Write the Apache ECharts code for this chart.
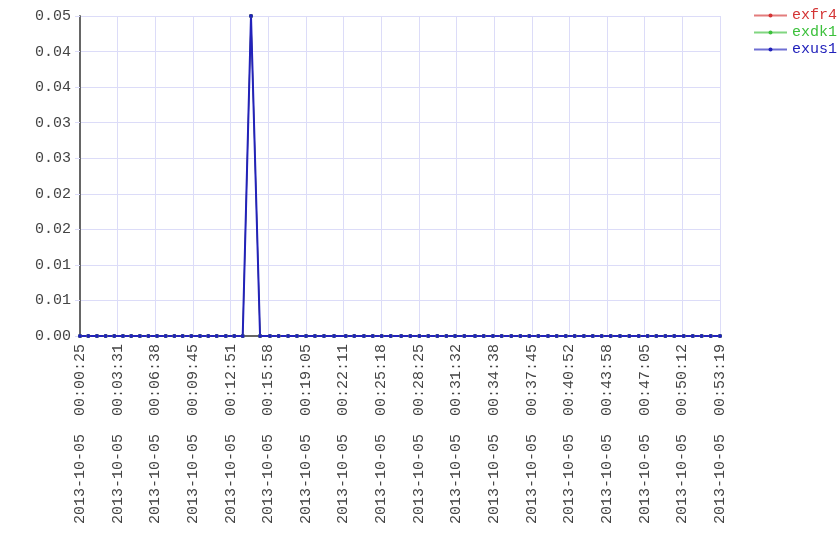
<!DOCTYPE html>
<html>
<head>
<meta charset="utf-8">
<script src="https://cdn.jsdelivr.net/npm/echarts@6/dist/echarts.min.js"></script>
<style>html,body{margin:0;padding:0;background:#fff}#c{width:840px;height:560px}</style>
</head>
<body>
<div id="c"></div>
<script>
const datePrefix = "2013-10-05";
const times = [
"00:00:25","00:01:06","00:01:49","00:02:32","00:03:15","00:03:58","00:04:39","00:05:22","00:06:04","00:06:47",
"00:07:30","00:08:13","00:08:54","00:09:37","00:10:20","00:11:01","00:11:43","00:12:28","00:13:10","00:13:52",
"00:14:33","00:15:18","00:16:07","00:16:50","00:17:37","00:18:21","00:19:06","00:19:50","00:20:35","00:21:25",
"00:22:23","00:23:05","00:23:53","00:24:37","00:25:21","00:26:06","00:26:58","00:27:43","00:28:28","00:29:12",
"00:29:57","00:30:42","00:31:25","00:32:11","00:33:04","00:33:47","00:34:33","00:35:16","00:36:04","00:36:49",
"00:37:33","00:38:18","00:39:06","00:39:49","00:40:34","00:41:18","00:42:04","00:42:48","00:43:32","00:44:17",
"00:45:03","00:45:49","00:46:36","00:47:20","00:48:03","00:48:48","00:49:32","00:50:19","00:51:04","00:51:48",
"00:52:33","00:53:19"
];
const exfr4 = [
0,0,0,0,0,0,0,0,0,0, 0,0,0,0,0,0,0,0,0,0, 0.05,0,0,0,0,0,0,0,0,0,
0,0,0,0,0,0,0,0,0,0, 0,0,0,0,0,0,0,0,0,0, 0,0,0,0,0,0,0,0,0,0,
0,0,0,0,0,0,0,0,0,0, 0,0
];
const exdk1 = [
0,0,0,0,0,0,0,0,0,0, 0,0,0,0,0,0,0,0,0,0, 0.05,0,0,0,0,0,0,0,0,0,
0,0,0,0,0,0,0,0,0,0, 0,0,0,0,0,0,0,0,0,0, 0,0,0,0,0,0,0,0,0,0,
0,0,0,0,0,0,0,0,0,0, 0,0
];
const exus1 = [
0,0,0,0,0,0,0,0,0,0, 0,0,0,0,0,0,0,0,0,0, 0.05,0,0,0,0,0,0,0,0,0,
0,0,0,0,0,0,0,0,0,0, 0,0,0,0,0,0,0,0,0,0, 0,0,0,0,0,0,0,0,0,0,
0,0,0,0,0,0,0,0,0,0, 0,0
];
const xTickLabels = [
"2013-10-05  00:00:25","2013-10-05  00:03:31","2013-10-05  00:06:38","2013-10-05  00:09:45",
"2013-10-05  00:12:51","2013-10-05  00:15:58","2013-10-05  00:19:05","2013-10-05  00:22:11",
"2013-10-05  00:25:18","2013-10-05  00:28:25","2013-10-05  00:31:32","2013-10-05  00:34:38",
"2013-10-05  00:37:45","2013-10-05  00:40:52","2013-10-05  00:43:58","2013-10-05  00:47:05",
"2013-10-05  00:50:12","2013-10-05  00:53:19"
];
const yTickLabels = ["0.00","0.01","0.01","0.02","0.02","0.03","0.03","0.04","0.04","0.05"];

function secs(t){const p=t.split(':').map(Number);return p[0]*3600+p[1]*60+p[2];}
const t0 = secs(times[0]);
const tEnd = secs(times[times.length-1]);
const xs = times.map(t => secs(t) - t0);
const span = tEnd - t0;
const xInterval = span / (xTickLabels.length - 1);
const yMax = 0.05;
const yInterval = yMax / (yTickLabels.length - 1);

const FONT = "'Liberation Mono', monospace";
const series = [
  {name:'exfr4', data: exfr4, color:'#d43535', w: 1},
  {name:'exdk1', data: exdk1, color:'#3cc03c', w: 1},
  {name:'exus1', data: exus1, color:'#2222bb', w: 2}
].map(s => ({
  name: s.name, type: 'line',
  data: xs.map((x,i) => [x, s.data[i]]),
  symbol: 'circle', symbolSize: 4, showSymbol: true,
  lineStyle: {width: s.w, color: s.color},
  itemStyle: {color: s.color},
  emphasis: {disabled: true},
  animation: false
}));

const chart = echarts.init(document.getElementById('c'), null, {renderer:'canvas'});
chart.setOption({
  animation: false,
  backgroundColor: '#fff',
  textStyle: {fontFamily: FONT},
  grid: {left: 80, right: 120, top: 16, bottom: 224, containLabel: false},
  legend: {
    orient: 'vertical', left: 748, top: 3, itemGap: 2, itemWidth: 33, itemHeight: 5,
    data: series.map(s => ({name: s.name, textStyle: {color: s.itemStyle.color}})),
    textStyle: {fontFamily: FONT, fontSize: 15},
    lineStyle: {opacity: 0.65, width: 2},
    inactiveColor: '#ccc'
  },
  xAxis: {
    type: 'value', min: 0, max: span, interval: xInterval,
    axisLine: {show: true, lineStyle: {color: '#666', width: 2}},
    axisTick: {show: false},
    splitLine: {show: true, lineStyle: {color: '#dcdcf8', width: 1}},
    axisLabel: {
      rotate: 90, margin: 8, color: '#444', fontFamily: FONT, fontSize: 15,
      showMinLabel: true, showMaxLabel: true,
      formatter: (v, i) => xTickLabels[Math.round(v / xInterval)] || ''
    }
  },
  yAxis: {
    type: 'value', min: 0, max: yMax, interval: yInterval,
    axisLine: {show: true, lineStyle: {color: '#666', width: 2}},
    axisTick: {show: true, length: 5, lineStyle: {color: '#dcdcf8'}},
    splitLine: {show: true, lineStyle: {color: '#dcdcf8', width: 1}},
    axisLabel: {
      margin: 9, color: '#444', fontFamily: FONT, fontSize: 15,
      formatter: (v) => yTickLabels[Math.round(v / yInterval)] || ''
    }
  },
  series: series
});
</script>
</body>
</html>
